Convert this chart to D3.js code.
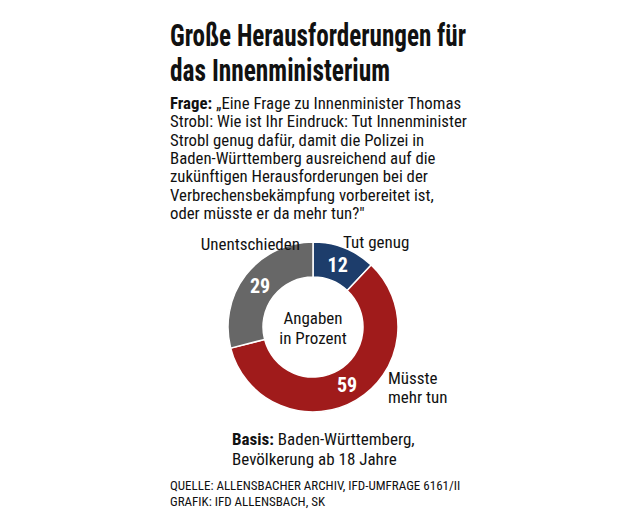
<!DOCTYPE html>
<html><head><meta charset="utf-8">
<script src="https://cdn.jsdelivr.net/npm/d3@7"></script>
<style>body{margin:0;background:#fff}text{font-family:"Liberation Sans Narrow","Roboto Condensed","Liberation Sans",sans-serif}</style>
</head><body><svg id="c" width="644" height="510"></svg>
<script>
const categories=["Tut genug","Müsste mehr tun","Unentschieden"];
const values=[12,59,29];
const colors=["#1d3d6b","#a01b1b","#676767"];
const titleLines=["Große Herausforderungen für","das Innenministerium"];
const titleWidths=[296,220];
const questionLines=["„Eine Frage zu Innenminister Thomas","Strobl: Wie ist Ihr Eindruck: Tut Innenminister","Strobl genug dafür, damit die Polizei in","Baden-Württemberg ausreichend auf die","zukünftigen Herausforderungen bei der","Verbrechensbekämpfung vorbereitet ist,","oder müsste er da mehr tun?\""];
const svg=d3.select("#c");
titleLines.forEach((t,i)=>svg.append("text").attr("x",170).attr("y",46+i*35).attr("font-size",31).attr("font-weight","bold").attr("fill","#111").attr("textLength",titleWidths[i]).attr("lengthAdjust","spacingAndGlyphs").text(t));
questionLines.forEach((t,i)=>{const tx=svg.append("text").attr("x",170).attr("y",109+i*18.3).attr("font-size",16.8).attr("fill","#111");
 if(i==0){tx.append("tspan").attr("font-weight","bold").text("Frage: ");} tx.append("tspan").text(t);});
const cx=313,cy=327;
const pie=d3.pie().sort(null)(values);
const arc=d3.arc().innerRadius(50).outerRadius(85);
const g=svg.append("g").attr("transform",`translate(${cx},${cy})`);
g.selectAll("path").data(pie).join("path").attr("d",arc).attr("fill",(d,i)=>colors[i]).attr("stroke","#fff").attr("stroke-width",1.5);
const la=d3.arc().innerRadius(67).outerRadius(67);
g.selectAll("text.v").data(pie).join("text").attr("class","v").attr("transform",d=>`translate(${la.centroid(d)})`).attr("text-anchor","middle").attr("dy","0.35em").attr("fill","#fff").attr("font-size",20).attr("font-weight","bold").text(d=>d.data);
g.append("text").attr("text-anchor","middle").attr("y",-3).attr("font-size",17).attr("fill","#111").text("Angaben");
g.append("text").attr("text-anchor","middle").attr("y",17).attr("font-size",17).attr("fill","#111").text("in Prozent");
const lab=(x,y,t,a)=>svg.append("text").attr("x",x).attr("y",y).attr("font-size",17).attr("fill","#111").attr("text-anchor",a||"start").text(t);
lab(343,248,categories[0]);
lab(300,250,categories[2],"end");
lab(388,384,"Müsste");lab(388,403,"mehr tun");
const b=svg.append("text").attr("x",232).attr("y",445).attr("font-size",17).attr("fill","#111");
b.append("tspan").attr("font-weight","bold").text("Basis: ");b.append("tspan").text("Baden-Württemberg,");
lab(232,465,"Bevölkerung ab 18 Jahre");
svg.append("text").attr("x",170).attr("y",490).attr("font-size",13).attr("fill","#111").text("QUELLE: ALLENSBACHER ARCHIV, IFD-UMFRAGE 6161/II");
svg.append("text").attr("x",170).attr("y",506).attr("font-size",13).attr("fill","#111").text("GRAFIK: IFD ALLENSBACH, SK");
</script></body></html>
